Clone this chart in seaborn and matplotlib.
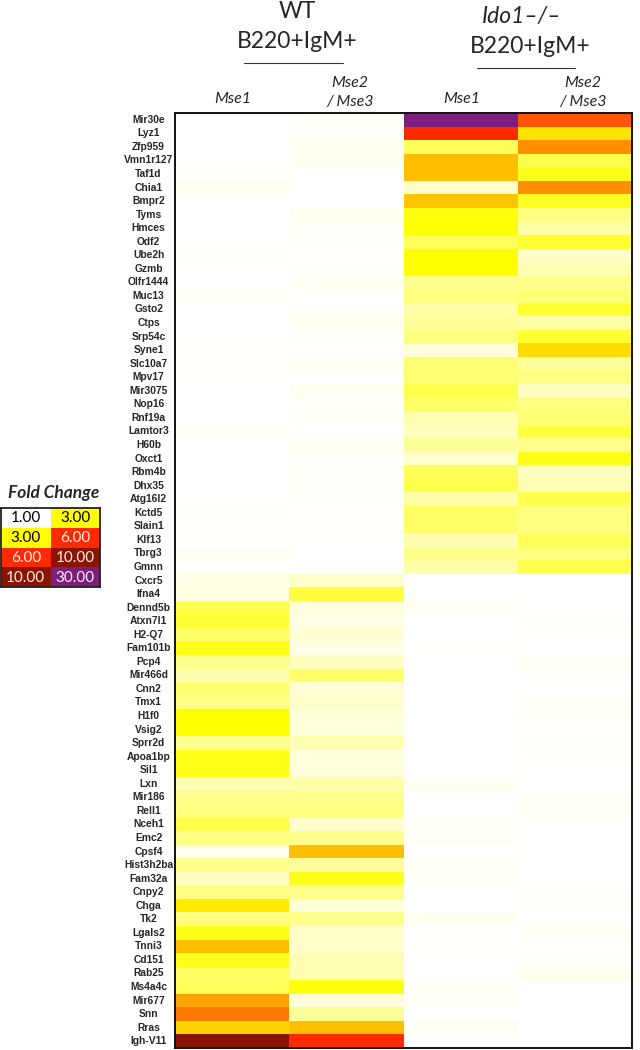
import numpy as np
import pandas as pd
import matplotlib
matplotlib.use("Agg")
import matplotlib.pyplot as plt
import seaborn as sns
from matplotlib.colors import LinearSegmentedColormap
from matplotlib.patches import Rectangle

# genes, top to bottom
genes = ["Mir30e", "Lyz1", "Zfp959", "Vmn1r127", "Taf1d", "Chia1", "Bmpr2", "Tyms",
         "Hmces", "Odf2", "Ube2h", "Gzmb", "Olfr1444", "Muc13", "Gsto2", "Ctps",
         "Srp54c", "Syne1", "Slc10a7", "Mpv17", "Mir3075", "Nop16", "Rnf19a", "Lamtor3",
         "H60b", "Oxct1", "Rbm4b", "Dhx35", "Atg16l2", "Kctd5", "Slain1", "Klf13",
         "Tbrg3", "Gmnn", "Cxcr5", "Ifna4", "Dennd5b", "Atxn7l1", "H2-Q7", "Fam101b",
         "Pcp4", "Mir466d", "Cnn2", "Tmx1", "H1f0", "Vsig2", "Sprr2d", "Apoa1bp",
         "Sil1", "Lxn", "Mir186", "Rell1", "Nceh1", "Emc2", "Cpsf4", "Hist3h2ba",
         "Fam32a", "Cnpy2", "Chga", "Tk2", "Lgals2", "Tnni3", "Cd151", "Rab25",
         "Ms4a4c", "Mir677", "Snn", "Rras", "Igh-V11"]

# fold change per column
wt_mse1 = [1.0, 1.0, 1.0, 1.0, 1.05, 1.15, 1.0, 1.0, 1.0, 1.0, 1.05, 1.0, 1.0, 1.05, 1.0, 1.0,
           1.0, 1.03, 1.0, 1.03, 1.0, 1.0, 1.0, 1.08, 1.0, 1.0, 1.0, 1.0, 1.0, 1.05, 1.0, 1.03,
           1.08, 1.0, 1.2, 1.25, 2.4, 2.6, 2.2, 2.8, 1.9, 1.6, 2.1, 2.0, 3.0, 3.0, 1.9, 2.8,
           2.8, 1.6, 1.9, 2.0, 2.4, 2.0, 1.15, 1.9, 1.5, 2.0, 3.3, 2.0, 2.8, 3.9, 2.8, 2.2,
           2.3, 4.3, 4.9, 3.6, 10.5]
wt_mse23 = [1.05, 1.05, 1.1, 1.1, 1.0, 1.0, 1.0, 1.12, 1.05, 1.05, 1.0, 1.05, 1.08, 1.0, 1.05, 1.1,
            1.05, 1.0, 1.1, 1.0, 1.12, 1.03, 1.06, 1.0, 1.1, 1.05, 1.05, 1.05, 1.05, 1.0, 1.03, 1.0,
            1.0, 1.0, 1.4, 2.5, 1.25, 1.2, 1.35, 1.2, 1.5, 2.2, 1.35, 1.4, 1.3, 1.3, 1.6, 1.3,
            1.3, 1.7, 1.9, 2.0, 1.4, 1.9, 3.9, 1.8, 2.8, 1.9, 1.3, 1.9, 1.4, 1.4, 1.6, 1.6,
            2.9, 1.3, 1.8, 3.9, 6.0]
ko_mse1 = [30.0, 6.0, 2.3, 3.9, 3.9, 1.4, 3.8, 2.9, 3.0, 2.3, 3.0, 3.0, 1.9, 2.0, 1.7, 1.8,
           2.0, 1.3, 2.1, 2.1, 2.4, 2.2, 1.6, 1.5, 1.8, 1.4, 2.3, 2.4, 1.7, 2.2, 2.2, 1.6,
           1.9, 1.7, 1.0, 1.02, 1.1, 1.0, 1.0, 1.03, 1.0, 1.0, 1.0, 1.0, 1.0, 1.0, 1.0, 1.0,
           1.0, 1.12, 1.0, 1.0, 1.06, 1.05, 1.0, 1.06, 1.06, 1.0, 1.0, 1.1, 1.0, 1.03, 1.0, 1.0,
           1.06, 1.06, 1.0, 1.12, 1.0]
ko_mse23 = [5.4, 3.4, 4.6, 2.4, 2.8, 4.6, 2.7, 2.0, 1.7, 2.6, 1.4, 1.6, 1.9, 2.1, 2.6, 1.7,
            2.6, 3.5, 1.8, 2.0, 1.5, 2.0, 2.1, 2.5, 1.9, 2.8, 1.5, 1.6, 2.4, 2.0, 2.0, 2.3,
            2.0, 2.4, 1.0, 1.0, 1.0, 1.04, 1.02, 1.0, 1.08, 1.05, 1.0, 1.08, 1.04, 1.03, 1.04, 1.03,
            1.0, 1.0, 1.08, 1.08, 1.0, 1.0, 1.0, 1.0, 1.0, 1.05, 1.05, 1.0, 1.08, 1.03, 1.05, 1.15,
            1.0, 1.0, 1.0, 1.0, 1.0]

col_names = ["WT Mse1", "WT Mse2/Mse3", "Ido1 Mse1", "Ido1 Mse2/Mse3"]
fold_bounds = [1, 3, 6, 10, 30]
bound_colors = ["#FFFFFF", "#FFFF00", "#FF2A00", "#8A1400", "#7B1E7E"]

df = pd.DataFrame({col_names[0]: wt_mse1, col_names[1]: wt_mse23,
                   col_names[2]: ko_mse1, col_names[3]: ko_mse23}, index=genes)

pos = [(b - fold_bounds[0]) / (fold_bounds[-1] - fold_bounds[0]) for b in fold_bounds]
cmap = LinearSegmentedColormap.from_list("fc", list(zip(pos, bound_colors)), N=4096)
norm = plt.Normalize(vmin=fold_bounds[0], vmax=fold_bounds[-1])

sns.set_style("white")
W, H = 640, 1050
fig = plt.figure(figsize=(6.4, 10.5), dpi=100)

def fx(x):
    return x / W

def fy(y):
    return 1 - y / H

ax = fig.add_axes([fx(175), fy(1048), 457 / W, 935 / H])
sns.heatmap(df, ax=ax, cmap=cmap, norm=norm, cbar=False,
            xticklabels=False, yticklabels=True)
ax.set_ylabel("")
ax.tick_params(axis="y", length=0, pad=19)
for t in ax.get_yticklabels():
    t.set_fontsize(7.4)
    t.set_fontweight("bold")
    t.set_family("Liberation Sans")
    t.set_horizontalalignment("center")
for s in ax.spines.values():
    s.set_visible(True)
    s.set_linewidth(1.4)
    s.set_color("#111111")

# group headers (y = baseline in px)
hf = "Lato"
hdr = dict(ha="center", va="baseline", fontsize=16.5, family=hf)
fig.text(fx(297), fy(18), "WT", **hdr)
fig.text(fx(297), fy(48), "B220+IgM+", **hdr)
fig.add_artist(plt.Line2D([fx(244), fx(343)], [fy(63), fy(63)], color="#333333", lw=0.8))
fig.text(fx(522), fy(23), "Ido1–/–", style="italic", **hdr)
fig.text(fx(530), fy(53), "B220+IgM+", **hdr)
fig.add_artist(plt.Line2D([fx(477), fx(575)], [fy(68), fy(68)], color="#333333", lw=0.8))

# column headers
sub = dict(ha="center", va="baseline", fontsize=11.5, family=hf, style="italic")
for x in (233, 462):
    fig.text(fx(x), fy(103), "Mse1", **sub)
for x in (350, 583):
    fig.text(fx(x), fy(87), "Mse2", **sub)
    fig.text(fx(x), fy(106), "/ Mse3", **sub)

# fold change legend
fig.text(fx(54), fy(493), "Fold Change", ha="center", va="center", fontsize=12.5,
         family=hf, style="italic", fontweight="bold")
lax = fig.add_axes([fx(1), fy(587), 99 / W, 79 / H])
lax.set_xlim(0, 2)
lax.set_ylim(4, 0)
lax.set_xticks([])
lax.set_yticks([])
for i in range(len(fold_bounds) - 1):
    for j, v in enumerate([fold_bounds[i], fold_bounds[i + 1]]):
        lax.add_patch(Rectangle((j, i), 1, 1, facecolor=cmap(norm(v)), edgecolor="none"))
        lax.text(j + 0.5, i + 0.52, f"{v:.2f}", ha="center", va="center", fontsize=11,
                 family=hf, color="black" if v <= 3 else "#FFF0EE")
for s in lax.spines.values():
    s.set_visible(True)
    s.set_linewidth(1.3)
    s.set_color("#222222")

fig.savefig("out.png", dpi=100)
